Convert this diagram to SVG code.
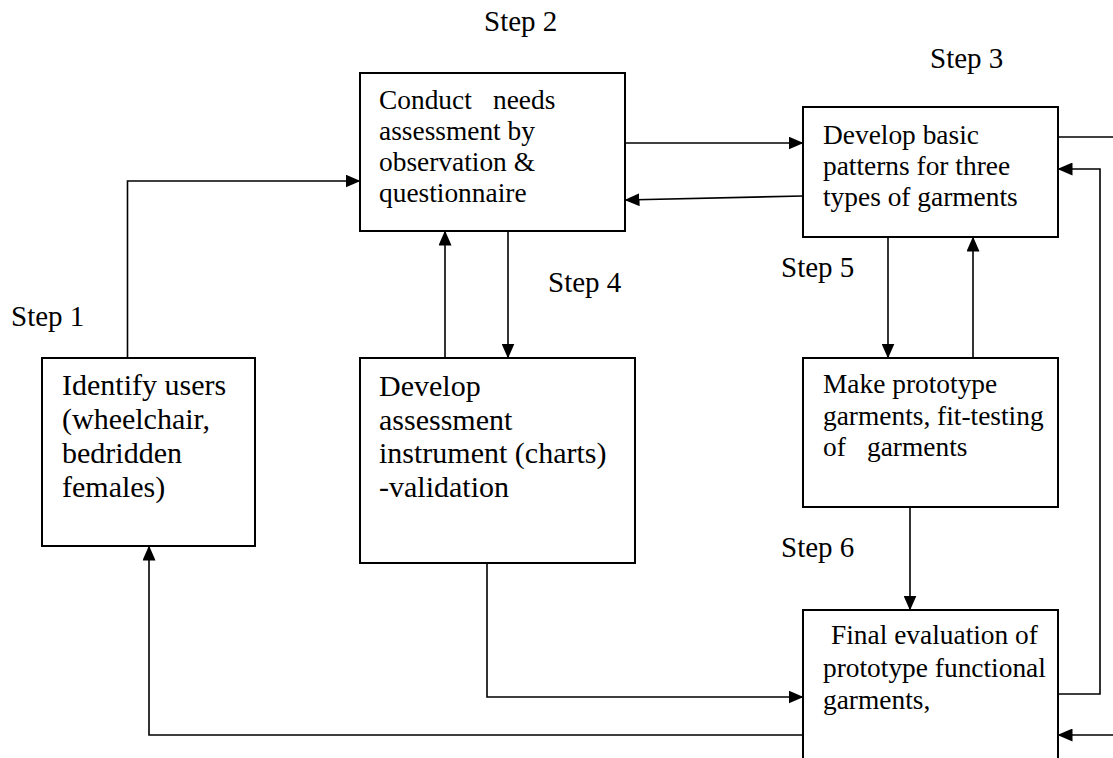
<svg xmlns="http://www.w3.org/2000/svg" width="1113" height="758" viewBox="0 0 1113 758">
<style>
.box{fill:#fff;stroke:#000;stroke-width:2}
text{font-family:'Liberation Serif','Times New Roman',serif;fill:#000}
.t{font-size:27.4px}
.tb{font-size:30px}
.step{font-size:29px}
.c{fill:none;stroke:#000;stroke-width:1.6}
.a{marker-end:url(#arr)}
</style>
<defs>
<marker id="arr" markerUnits="userSpaceOnUse" markerWidth="15" markerHeight="13" refX="14.5" refY="6.5" orient="auto">
<path d="M0,0 L15,6.5 L0,13 z" fill="#000"/>
</marker>
</defs>
<rect width="1113" height="758" fill="#fff"/>

<g id="labels" font-family="Liberation Serif, serif">
<text class="step" x="484" y="31">Step 2</text>
<text class="step" x="930" y="68">Step 3</text>
<text class="step" x="11" y="326">Step 1</text>
<text class="step" x="548" y="292">Step 4</text>
<text class="step" x="781" y="277">Step 5</text>
<text class="step" x="781" y="557">Step 6</text>
</g>

<g id="node-identify">
<rect class="box" x="42" y="358" width="213" height="188"/>
<text class="tb"><tspan x="62" y="395">Identify users</tspan><tspan x="62" y="429">(wheelchair,</tspan><tspan x="62" y="463">bedridden</tspan><tspan x="62" y="497">females)</tspan></text>
</g>

<g id="node-conduct">
<rect class="box" x="360" y="73" width="265" height="158"/>
<text class="t"><tspan x="379" y="109">Conduct</tspan><tspan x="493" y="109">needs</tspan><tspan x="379" y="140">assessment by</tspan><tspan x="379" y="171">observation &amp;</tspan><tspan x="379" y="202">questionnaire</tspan></text>
</g>

<g id="node-patterns">
<rect class="box" x="803" y="107" width="255" height="130"/>
<text class="t"><tspan x="823" y="144">Develop basic</tspan><tspan x="823" y="175">patterns for three</tspan><tspan x="823" y="206">types of garments</tspan></text>
</g>

<g id="node-instrument">
<rect class="box" x="360" y="358" width="275" height="205"/>
<text class="tb"><tspan x="379" y="396">Develop</tspan><tspan x="379" y="430">assessment</tspan><tspan x="379" y="463">instrument (charts)</tspan><tspan x="379" y="497">-validation</tspan></text>
</g>

<g id="node-prototype">
<rect class="box" x="803" y="358" width="255" height="149"/>
<text class="t"><tspan x="823" y="393">Make prototype</tspan><tspan x="823" y="425">garments, fit-testing</tspan><tspan x="823" y="456">of</tspan><tspan x="867" y="456">garments</tspan></text>
</g>

<g id="node-final">
<rect class="box" x="803" y="610" width="255" height="200"/>
<text class="t"><tspan x="831" y="644">Final evaluation of</tspan><tspan x="823" y="677">prototype functional</tspan><tspan x="823" y="709">garments,</tspan></text>
</g>

<g id="connectors">
<polyline class="c a" points="127.5,358 127.5,181 360,181"/>
<line class="c a" x1="625" y1="143" x2="803" y2="143"/>
<line class="c a" x1="803" y1="196" x2="625" y2="200"/>
<line class="c" x1="1058" y1="137" x2="1113" y2="137"/>
<polyline class="c a" points="1058,694 1100,694 1100,169 1058,169"/>
<line class="c a" x1="1113" y1="735" x2="1058" y2="735"/>
<line class="c a" x1="888" y1="237" x2="888" y2="358"/>
<line class="c a" x1="973" y1="358" x2="973" y2="237"/>
<line class="c a" x1="910" y1="507" x2="910" y2="610"/>
<line class="c a" x1="508" y1="231" x2="508" y2="358"/>
<line class="c a" x1="445" y1="358" x2="445" y2="231"/>
<polyline class="c a" points="487,563 487,697 803,697"/>
<polyline class="c a" points="803,735 149,735 149,546"/>
</g>
</svg>
